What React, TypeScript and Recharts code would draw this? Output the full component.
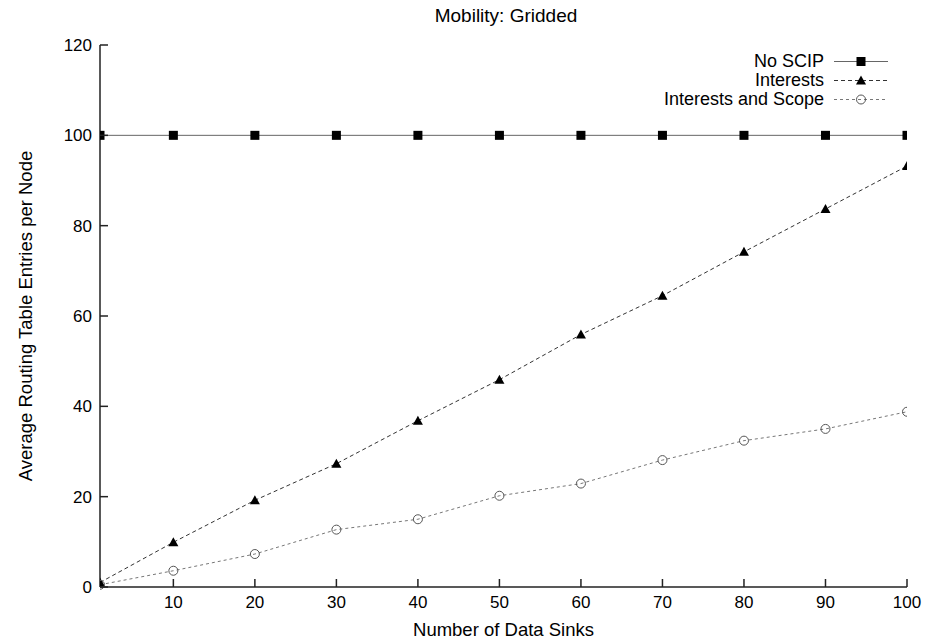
import { LineChart, Line, XAxis, YAxis, Legend } from 'recharts'

// Number of data sinks (x) and average routing table entries per node (y)
const sinks = [1, 10, 20, 30, 40, 50, 60, 70, 80, 90, 100]
const noScip = [100, 100, 100, 100, 100, 100, 100, 100, 100, 100, 100]
const interests = [1, 9.9, 19.2, 27.3, 36.8, 45.9, 55.9, 64.5, 74.2, 83.7, 93.2]
const interestsScope = [0.5, 3.6, 7.3, 12.7, 15.0, 20.2, 22.9, 28.1, 32.4, 35.0, 38.8]

const xTicks = [10, 20, 30, 40, 50, 60, 70, 80, 90, 100]
const yTicks = [0, 20, 40, 60, 80, 100, 120]

const data = sinks.map((s, i) => ({
  sinks: s,
  noScip: noScip[i],
  interests: interests[i],
  scope: interestsScope[i],
}))

const FONT = '"Liberation Sans", Arial, Helvetica, sans-serif'
const AXIS = '#222'
const TICK_LEN = 8

// gnuplot-style ticks: mark points into the plot, label sits outside
const BottomTick = ({ x, y, payload }: any) => (
  <g>
    <path d={`M${x},${y}L${x},${y - TICK_LEN}`} stroke={AXIS} strokeWidth={1.5} />
    <text x={x} y={y + 21} textAnchor="middle" fontSize={17} fontFamily={FONT} fill="#000">{payload.value}</text>
  </g>
)
const LeftTick = ({ x, y, payload }: any) => (
  <g>
    <path d={`M${x},${y}L${x + TICK_LEN},${y}`} stroke={AXIS} strokeWidth={1.5} />
    <text x={x - 8} y={y + 6} textAnchor="end" fontSize={17} fontFamily={FONT} fill="#000">{payload.value}</text>
  </g>
)
const TopTick = ({ x, y }: any) => <path d={`M${x},${y}L${x},${y + TICK_LEN}`} stroke={AXIS} strokeWidth={1.5} />
const RightTick = ({ x, y }: any) => <path d={`M${x},${y}L${x - TICK_LEN},${y}`} stroke={AXIS} strokeWidth={1.5} />

const SquareDot = (p: any) => {
  const { cx, cy } = p
  if (cx == null || cy == null) return null
  return <rect x={cx - 4.5} y={cy - 4.5} width={9} height={9} fill="#000" />
}
const TriDot = (p: any) => {
  const { cx, cy } = p
  if (cx == null || cy == null) return null
  return <path d={`M${cx},${cy - 5} L${cx + 5},${cy + 4} L${cx - 5},${cy + 4} Z`} fill="#000" />
}
const CircleDot = (p: any) => {
  const { cx, cy } = p
  if (cx == null || cy == null) return null
  return <circle cx={cx} cy={cy} r={4.5} fill="none" stroke="#555" strokeWidth={1} />
}

const LEGEND_ROWS = [
  { name: 'No SCIP', stroke: '#666', dash: undefined, Dot: SquareDot },
  { name: 'Interests', stroke: '#333', dash: '4 3', Dot: TriDot },
  { name: 'Interests and Scope', stroke: '#777', dash: '3 3', Dot: CircleDot },
]

function LegendBox() {
  return (
    <div style={{ fontFamily: FONT, fontSize: 18, color: '#000' }}>
      {LEGEND_ROWS.map((r) => (
        <div key={r.name} style={{ display: 'flex', alignItems: 'center', justifyContent: 'flex-end', height: 19 }}>
          <span style={{ marginRight: 10, lineHeight: '19px' }}>{r.name}</span>
          <svg width={54} height={19}>
            <path d="M0,9.5L54,9.5" stroke={r.stroke} strokeDasharray={r.dash} />
            <r.Dot cx={27} cy={9.5} />
          </svg>
        </div>
      ))}
    </div>
  )
}

export default function App() {
  return (
    <div style={{ position: 'absolute', left: 0, top: 0, width: 929, height: 640, background: '#fff', fontFamily: FONT }}>
      <div style={{ position: 'absolute', left: 306, top: 5, width: 400, textAlign: 'center', fontSize: 19, lineHeight: '22px', color: '#000' }}>
        Mobility: Gridded
      </div>
      <LineChart width={929} height={640} data={data} margin={{ top: 45, right: 22, bottom: 0, left: 0 }}>
        <XAxis
          dataKey="sinks" type="number" domain={[1, 100]} ticks={xTicks} allowDataOverflow
          height={53} tickSize={0} tickMargin={0} tickLine={false} tick={<BottomTick />}
          axisLine={{ stroke: AXIS, strokeWidth: 1.5 }}
          label={{ value: 'Number of Data Sinks', position: 'insideBottom', offset: 4, style: { fill: '#000', fontSize: 18.5, fontFamily: FONT } }}
        />
        <XAxis
          xAxisId="top" orientation="top" dataKey="sinks" type="number" domain={[1, 100]} ticks={xTicks} allowDataOverflow
          height={0} tickSize={0} tickMargin={0} tickLine={false} tick={<TopTick />}
          axisLine={{ stroke: AXIS, strokeWidth: 1.5 }}
        />
        <YAxis
          domain={[0, 120]} ticks={yTicks} width={100} tickSize={0} tickMargin={0} tickLine={false} tick={<LeftTick />}
          axisLine={{ stroke: AXIS, strokeWidth: 1.5 }}
          label={{ value: 'Average Routing Table Entries per Node', angle: -90, position: 'insideLeft', offset: 25, style: { fill: '#000', fontSize: 18.5, fontFamily: FONT, textAnchor: 'middle' } }}
        />
        <YAxis
          yAxisId="right" orientation="right" domain={[0, 120]} ticks={yTicks} width={0}
          tickSize={0} tickMargin={0} tickLine={false} tick={<RightTick />}
          axisLine={{ stroke: AXIS, strokeWidth: 1.5 }}
        />
        <Legend
          layout="horizontal" verticalAlign="middle" align="center"
          content={<LegendBox />}
          wrapperStyle={{ position: 'absolute', top: 52, right: 41, left: 'auto', bottom: 'auto', width: 'auto' }}
        />
        <Line dataKey="noScip" name="No SCIP" stroke="#666" strokeWidth={1} dot={<SquareDot />} isAnimationActive={false} />
        <Line dataKey="interests" name="Interests" stroke="#333" strokeWidth={1} strokeDasharray="4 3" dot={<TriDot />} isAnimationActive={false} />
        <Line dataKey="scope" name="Interests and Scope" stroke="#777" strokeWidth={1} strokeDasharray="3 3" dot={<CircleDot />} isAnimationActive={false} />
      </LineChart>
    </div>
  )
}
